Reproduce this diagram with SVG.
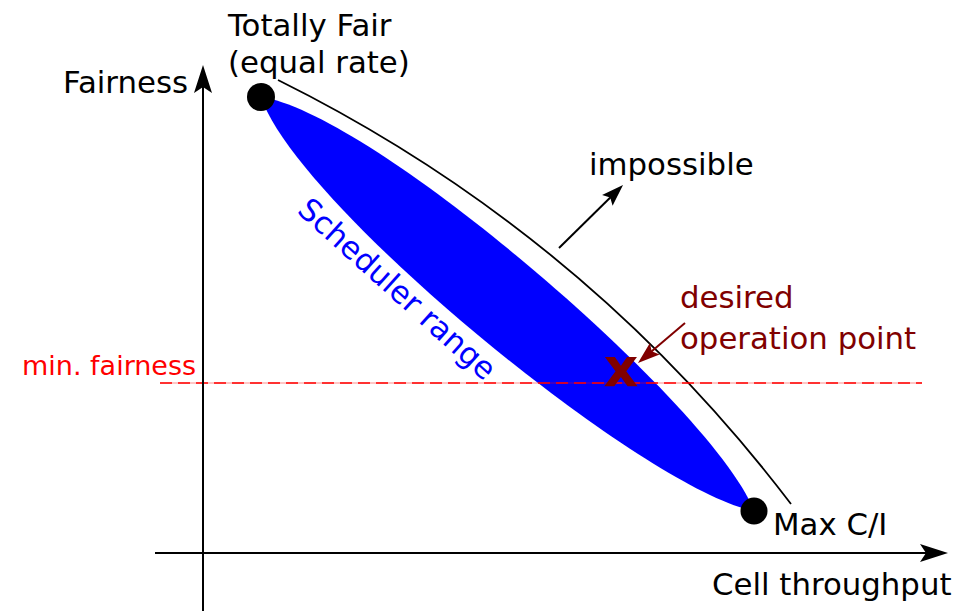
<svg xmlns="http://www.w3.org/2000/svg" width="967" height="611" viewBox="0 0 967 611">
<style>
text{font-family:"DejaVu Sans","Liberation Sans",sans-serif;font-size:30.8px}
.blk{fill:#000}
.dred{fill:#800000}
.ax{stroke:#000;stroke-width:2;fill:none}
</style>
<defs>
<marker id="big" markerUnits="userSpaceOnUse" orient="auto" overflow="visible" refX="0" refY="0" markerWidth="1" markerHeight="1">
<path d="M20,0 L-8,-9 L-2,0 L-8,9 Z" fill="#000"/>
</marker>
<marker id="sm" markerUnits="userSpaceOnUse" orient="auto" overflow="visible" refX="0" refY="0" markerWidth="1" markerHeight="1">
<path d="M10,0 L-12,-7.5 L-8,0 L-12,7.5 Z" fill="#000"/>
</marker>
<marker id="smr" markerUnits="userSpaceOnUse" orient="auto" overflow="visible" refX="0" refY="0" markerWidth="1" markerHeight="1">
<path d="M10,0 L-12,-7.5 L-8,0 L-12,7.5 Z" fill="#800000"/>
</marker>
</defs>
<g id="range">
<path d="M261,97 C373.6,113.1 714.8,407.5 754,511 C645.4,490.3 296.4,205.1 261,97 Z" fill="#0000ff"/>
<text x="296" y="212" transform="rotate(42 296 212)" fill="#0000ff">Scheduler range</text>
</g>
<g id="frontier">
<path d="M278,80 Q584,232 791,504" fill="none" stroke="#000" stroke-width="1.8"/>
</g>
<g id="minfair">
<line x1="160" y1="383" x2="922" y2="383" stroke="#ff0000" stroke-opacity="0.3" stroke-width="1.5"/>
<line x1="160" y1="383" x2="922" y2="383" stroke="#ff0000" stroke-width="1.5" stroke-dasharray="12,6"/>
<text x="22" y="375" fill="#ff0000" style="font-size:27px">min. fairness</text>
</g>
<g id="connectors">
<line class="ax" x1="155" y1="553" x2="928" y2="553" marker-end="url(#big)"/>
<line class="ax" x1="203" y1="611" x2="203" y2="85" marker-end="url(#big)"/>
<line x1="559" y1="248" x2="615.9" y2="192" stroke="#000" stroke-width="2" marker-end="url(#sm)"/>
<line x1="685" y1="323" x2="645.6" y2="356.5" stroke="#800000" stroke-width="2" marker-end="url(#smr)"/>
</g>
<g id="fair-node">
<circle cx="261" cy="97" r="14" fill="#000"/>
<text x="228" y="36" class="blk">Totally Fair</text>
<text x="228" y="73" class="blk">(equal rate)</text>
</g>
<g id="maxci-node">
<circle cx="754" cy="511" r="13.5" fill="#000"/>
<text x="773" y="535" class="blk">Max C/I</text>
</g>
<g id="desired-node">
<text x="621" y="386" text-anchor="middle" class="dred" style="font-size:54px;font-weight:bold">x</text>
<text x="680" y="308" class="dred">desired</text>
<text x="680" y="349" class="dred">operation point</text>
</g>
<g id="labels">
<text x="63" y="93" class="blk">Fairness</text>
<text x="589" y="175" class="blk">impossible</text>
<text x="712" y="595" class="blk">Cell throughput</text>
</g>
</svg>
